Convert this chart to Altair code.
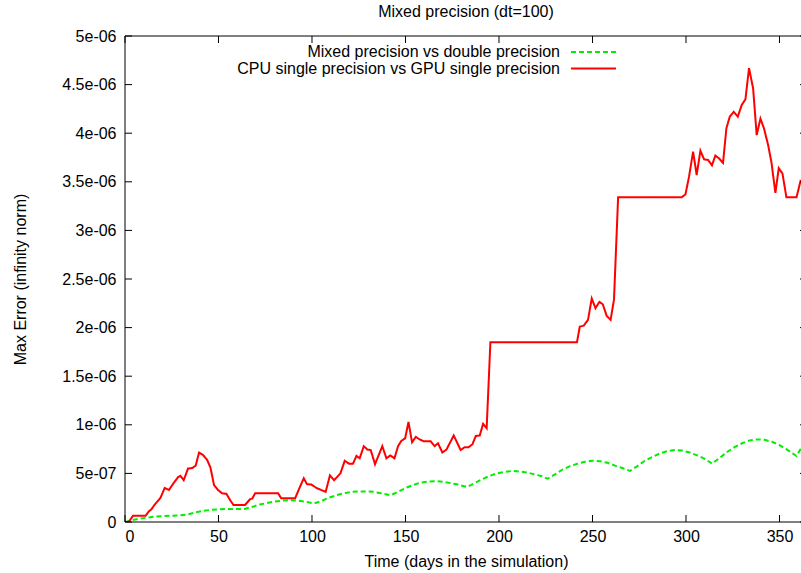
import altair as alt
import pandas as pd

FONT = "Liberation Sans"

# Max error of the mixed-precision run against the double-precision run (units of 1e-6)
mixed_days = [0, 4, 8, 12, 16, 20, 25, 30, 34, 38, 42, 46, 50, 55, 60, 64, 68, 72, 76, 80,
              84, 88, 92, 96, 101, 105, 109, 113, 117, 121, 125, 129, 133, 137, 142, 146, 150,
              154, 158, 162, 166, 170, 174, 178, 183, 187, 191, 195, 199, 203, 207, 211, 215,
              219, 223, 226, 230, 234, 238, 242, 246, 250, 254, 258, 262, 266, 270, 274, 278,
              282, 286, 290, 294, 298, 302, 306, 310, 314, 318, 322, 326, 330, 334, 338, 342,
              346, 350, 354, 359, 362]
mixed_err = [0.0, 0.02, 0.035, 0.045, 0.055, 0.06, 0.065, 0.07, 0.08, 0.1, 0.115, 0.125, 0.13,
             0.135, 0.135, 0.135, 0.155, 0.18, 0.195, 0.21, 0.22, 0.225, 0.22, 0.21, 0.19, 0.215,
             0.25, 0.275, 0.295, 0.31, 0.315, 0.315, 0.31, 0.295, 0.275, 0.31, 0.35, 0.38, 0.405,
             0.415, 0.42, 0.415, 0.4, 0.385, 0.36, 0.4, 0.44, 0.475, 0.5, 0.515, 0.525, 0.52, 0.51,
             0.49, 0.47, 0.445, 0.49, 0.54, 0.575, 0.6, 0.62, 0.63, 0.625, 0.61, 0.58, 0.555,
             0.525, 0.575, 0.63, 0.67, 0.705, 0.73, 0.74, 0.735, 0.715, 0.685, 0.65, 0.6, 0.66,
             0.72, 0.77, 0.81, 0.84, 0.85, 0.845, 0.825, 0.79, 0.745, 0.68, 0.77]

# Max error of the CPU single-precision run against the GPU single-precision run (units of 1e-6)
single_days = [0, 2, 4.3, 8.4, 11, 12.8, 14.1, 15.9, 17.7, 19, 21.2, 23.5, 26, 28.3, 29.6, 31.4,
               33.7, 36, 37.8, 39.6, 41.7, 43.9, 45.7, 47.6, 49.7, 51.9, 54.2, 56.4, 58, 64.2,
               66.9, 68, 69.6, 81.9, 83.5, 91, 93.3, 95.6, 97.3, 99.7, 102.4, 107.3, 109.6, 111.8,
               115.2, 117.5, 119.8, 121.9, 123.8, 125.5, 127.7, 129.6, 131.4, 133.7, 137.6, 139.8,
               141.9, 144.1, 146, 147.8, 149.8, 151.6, 153.5, 155.5, 157.6, 159.7, 163.5, 165.6,
               167.4, 169.7, 171.9, 175.8, 179.5, 181.7, 183.8, 185.8, 187.6, 189.7, 191.5, 193.4,
               195.4, 241.7, 243.2, 245.3, 247.6, 249.6, 251.6, 253.7, 255.5, 257.6, 259.7, 261.5,
               263.7, 297.6, 299.7, 301.6, 303.8, 305.7, 307.7, 309.7, 311.8, 313.9, 315.7, 317.7,
               319.8, 321.6, 323.4, 325.5, 327.7, 329.8, 331.8, 333.7, 335.9, 337.8, 339.8, 341.7,
               343.9, 345.7, 347.8, 349.6, 351.6, 353.7, 359.1, 361.4]
single_err = [0, 0, 0.065, 0.065, 0.065, 0.11, 0.13, 0.18, 0.22, 0.25, 0.35, 0.33, 0.4, 0.46,
              0.475, 0.43, 0.55, 0.555, 0.58, 0.715, 0.69, 0.64, 0.56, 0.38, 0.33, 0.295, 0.29,
              0.22, 0.175, 0.175, 0.235, 0.24, 0.295, 0.295, 0.245, 0.245, 0.35, 0.45, 0.39,
              0.385, 0.35, 0.31, 0.48, 0.43, 0.5, 0.63, 0.6, 0.6, 0.68, 0.655, 0.78, 0.745, 0.74,
              0.595, 0.78, 0.655, 0.685, 0.655, 0.78, 0.835, 0.86, 1.03, 0.82, 0.875, 0.85, 0.83,
              0.83, 0.78, 0.81, 0.715, 0.745, 0.89, 0.74, 0.77, 0.77, 0.8, 0.885, 0.89, 1.01,
              0.965, 1.85, 1.85, 2.01, 2.02, 2.08, 2.3, 2.2, 2.265, 2.24, 2.12, 2.08, 2.29, 3.34,
              3.34, 3.37, 3.55, 3.81, 3.57, 3.82, 3.73, 3.725, 3.67, 3.77, 3.74, 3.695, 4.05,
              4.17, 4.22, 4.17, 4.29, 4.35, 4.67, 4.46, 3.98, 4.15, 4.05, 3.88, 3.7, 3.385, 3.64,
              3.585, 3.34, 3.34, 3.52]

chart_title = "Mixed precision (dt=100)"
series_names = ["Mixed precision vs double precision",
                "CPU single precision vs GPU single precision"]
series_colors = ["#00ee00", "#ff0000"]
series_dashes = [[5, 3], [1, 0]]

x_ticks = [0, 50, 100, 150, 200, 250, 300, 350]
y_ticks = [0, 0.5e-6, 1e-6, 1.5e-6, 2e-6, 2.5e-6, 3e-6, 3.5e-6, 4e-6, 4.5e-6, 5e-6]
y_tick_labels = ["0", "5e-07", "1e-06", "1.5e-06", "2e-06", "2.5e-06", "3e-06",
                 "3.5e-06", "4e-06", "4.5e-06", "5e-06"]

X_MAX = 361.5
Y_MAX = 5e-6
W, H = 676, 486
TICK = 7

df = pd.concat([
    pd.DataFrame({"day": mixed_days, "err": [v * 1e-6 for v in mixed_err],
                  "series": series_names[0], "order": 0}),
    pd.DataFrame({"day": single_days, "err": [v * 1e-6 for v in single_err],
                  "series": series_names[1], "order": 1}),
], ignore_index=True)

xs = alt.Scale(domain=[0, X_MAX], nice=False, zero=False)
ys = alt.Scale(domain=[0, Y_MAX], nice=False, zero=False)

y_label_expr = "[" + ",".join(f"'{s}'" for s in y_tick_labels) + "][round(datum.value / 5e-7)]"

x_axis = alt.Axis(values=x_ticks, format="d", title="Time (days in the simulation)",
                  labelPadding=6, titleX=341, titleY=39, titleBaseline="middle",
                  titleAlign="center", titleAnchor="middle")
y_axis = alt.Axis(values=y_ticks, labelExpr=y_label_expr,
                  title="Max Error (infinity norm)", labelPadding=9,
                  titleX=-105, titleY=H / 2, titleBaseline="middle",
                  titleAlign="center", titleAngle=270)

lines = alt.Chart(df).mark_line(strokeWidth=2, clip=True).encode(
    x=alt.X("day:Q", scale=xs, axis=x_axis),
    y=alt.Y("err:Q", scale=ys, axis=y_axis),
    color=alt.Color("series:N", scale=alt.Scale(domain=series_names, range=series_colors),
                    legend=None),
    strokeDash=alt.StrokeDash("series:N",
                              scale=alt.Scale(domain=series_names, range=series_dashes),
                              legend=None),
    detail="order:O",
)

xt = pd.DataFrame({"v": x_ticks})
yt = pd.DataFrame({"v": y_ticks})

# Inward tick marks on all four sides of the frame
bottom_ticks = alt.Chart(xt).mark_rule(color="black", strokeWidth=1).encode(
    x=alt.X("v:Q", scale=xs, axis=x_axis), y=alt.value(H), y2=alt.value(H - TICK))
top_ticks = alt.Chart(xt).mark_rule(color="black", strokeWidth=1).encode(
    x=alt.X("v:Q", scale=xs, axis=x_axis), y=alt.value(0), y2=alt.value(TICK))
left_ticks = alt.Chart(yt).mark_rule(color="black", strokeWidth=1).encode(
    y=alt.Y("v:Q", scale=ys, axis=y_axis), x=alt.value(0), x2=alt.value(TICK))
right_ticks = alt.Chart(yt).mark_rule(color="black", strokeWidth=1).encode(
    y=alt.Y("v:Q", scale=ys, axis=y_axis), x=alt.value(W - 1), x2=alt.value(W + TICK))

frame_src = pd.DataFrame({"k": [0]})
border_top = alt.Chart(frame_src).mark_rule(color="black", strokeWidth=1).encode(
    x=alt.value(0), x2=alt.value(W + 10), y=alt.value(0))
border_bottom = alt.Chart(frame_src).mark_rule(color="black", strokeWidth=1).encode(
    x=alt.value(0), x2=alt.value(W + 10), y=alt.value(H))
border_left = alt.Chart(frame_src).mark_rule(color="black", strokeWidth=1).encode(
    x=alt.value(0), y=alt.value(0), y2=alt.value(H))

# Plot title above the frame
title_layer = alt.Chart(pd.DataFrame({"t": [chart_title]})).mark_text(
    align="center", baseline="middle", font=FONT, fontSize=16, color="black"
).encode(text="t:N", x=alt.value(341), y=alt.value(-24))

# Key in the top right corner: label on the left, line sample on the right
key_layers = []
for i, name in enumerate(series_names):
    row_y = 16 + 16.5 * i
    key_src = pd.DataFrame({"series": [name]})
    key_layers.append(
        alt.Chart(key_src).mark_text(align="right", baseline="middle", font=FONT,
                                     fontSize=16, color="black").encode(
            text="series:N", x=alt.value(435), y=alt.value(row_y)))
    key_layers.append(
        alt.Chart(key_src).mark_rule(color=series_colors[i], strokeWidth=2,
                                     strokeDash=series_dashes[i]).encode(
            x=alt.value(446), x2=alt.value(491), y=alt.value(row_y)))

chart = alt.layer(
    lines, bottom_ticks, top_ticks, left_ticks, right_ticks,
    border_top, border_bottom, border_left, title_layer, *key_layers,
).properties(
    width=W,
    height=H,
    padding={"left": 125, "top": 36, "right": 0, "bottom": 51},
    autosize=alt.AutoSizeParams(type="none"),
).configure(
    background="white"
).configure_view(
    stroke=None
).configure_axis(
    labelFont=FONT, labelFontSize=16, labelColor="black",
    titleFont=FONT, titleFontSize=16, titleFontWeight="normal", titleColor="black",
    ticks=False, tickSize=0, domain=False, grid=False,
)

chart.save("out.html", embed_options={"renderer": "svg", "actions": False})
